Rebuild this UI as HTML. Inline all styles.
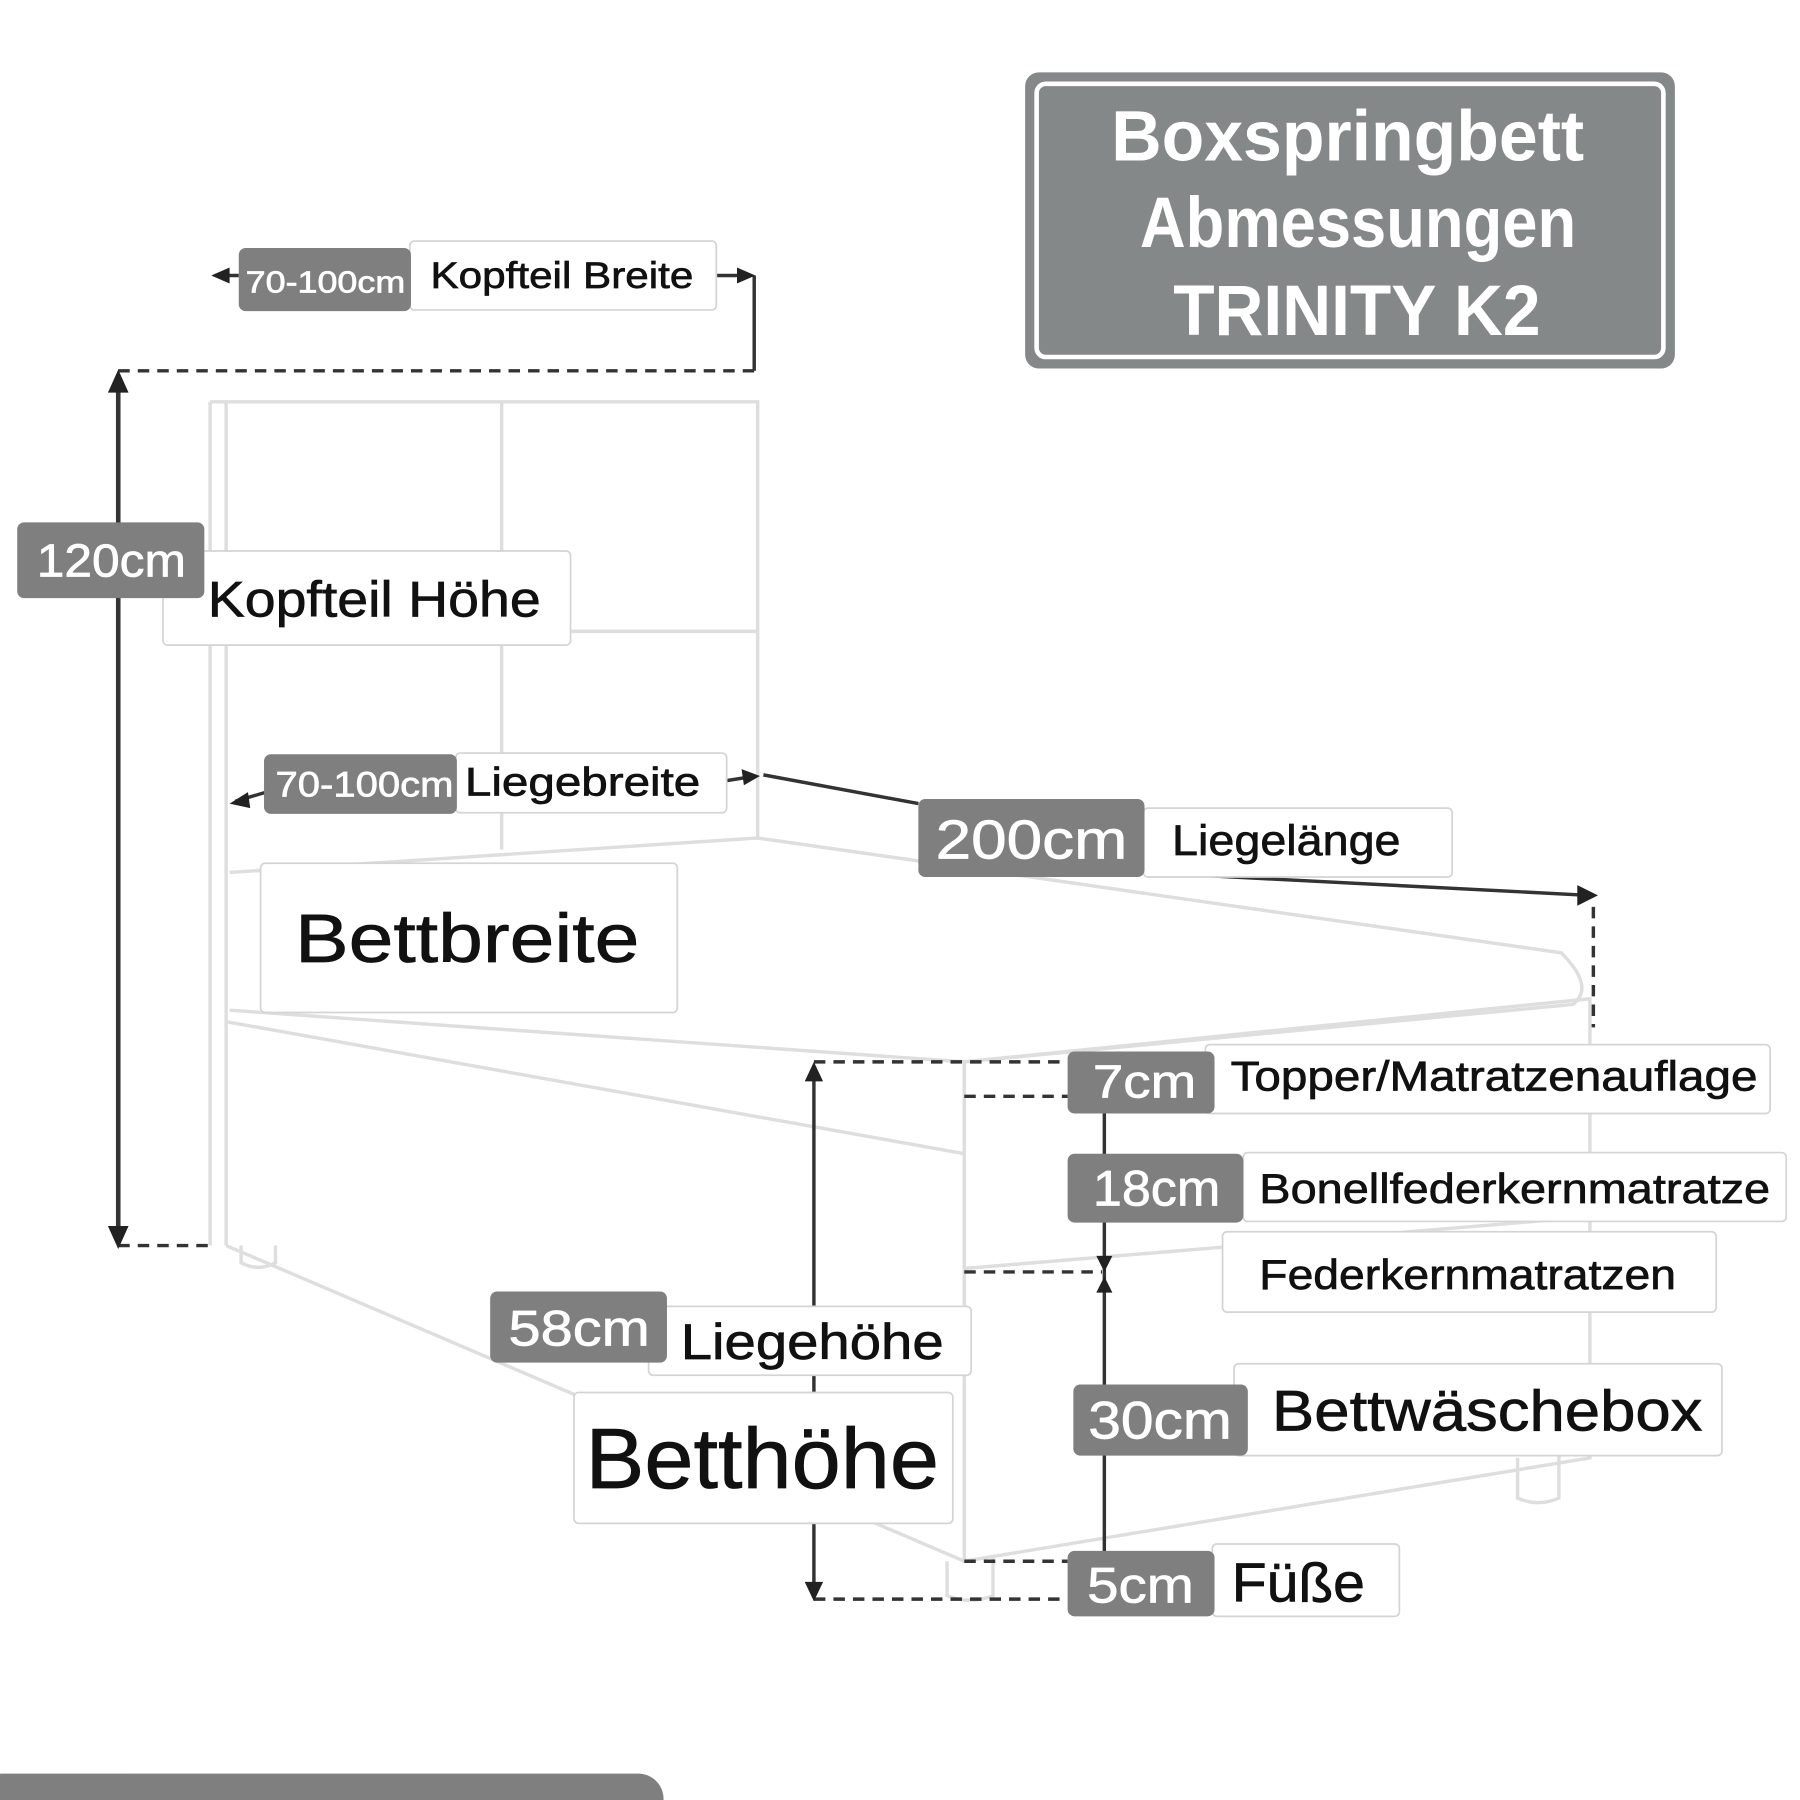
<!DOCTYPE html>
<html><head><meta charset="utf-8"><style>html,body{margin:0;padding:0;background:#fff}svg{display:block}</style></head>
<body>
<svg width="1800" height="1800" viewBox="0 0 1568 1568" xmlns="http://www.w3.org/2000/svg" font-family="Liberation Sans, sans-serif">
<rect width="1568" height="1568" fill="#fff"/>
<!-- title -->
<rect x="893" y="63" width="566" height="258" rx="12" fill="#858888"/>
<rect x="903" y="73" width="546" height="238" rx="8" fill="none" stroke="#fff" stroke-width="4"/>
<g fill="#fff" font-weight="bold" font-size="62">
<text x="968" y="140" textLength="412" lengthAdjust="spacingAndGlyphs">Boxspringbett</text>
<text x="993" y="215" textLength="380" lengthAdjust="spacingAndGlyphs">Abmessungen</text>
<text x="1022" y="292" textLength="320" lengthAdjust="spacingAndGlyphs">TRINITY K2</text>
</g>
<rect x="-20" y="1545" width="598" height="60" rx="22" fill="#7f7f7f"/>
<!-- bed -->
<g fill="none" stroke="#dedede" stroke-width="3">
<path d="M183 350 L183 1085 M197 350 L197 1085 M183 350 L660 350 L660 730"/>
<path d="M200 550 L660 550 M437 350 L437 740"/>
<path d="M200 760 L660 730 L1360 830 Q1390 860 1370 875 L840 925 L200 880"/>
<path d="M840 925 L1385 870 L1385 1270 L840 1360 Z"/>
<path d="M197 890 L840 1005 M840 1105 L1385 1060 M197 1085 L840 1360"/>
<path d="M210 1085 L210 1100 Q225 1108 240 1100 L240 1085"/>
<path d="M825 1360 L825 1390 Q845 1398 865 1390 L865 1355"/>
<path d="M1322 1270 L1322 1305 Q1340 1313 1358 1305 L1358 1265"/>
</g>
<!-- dimension lines -->
<g stroke="#333" stroke-width="3" fill="none">
<line x1="103" y1="328" x2="103" y2="1082" stroke-width="4"/>
<line x1="103" y1="323" x2="657" y2="323" stroke-dasharray="10 7"/>
<line x1="103" y1="1085" x2="185" y2="1085" stroke-dasharray="10 7"/>
<line x1="657" y1="240" x2="657" y2="323"/>
<line x1="190" y1="240" x2="208" y2="240"/>
<line x1="624" y1="240" x2="652" y2="240"/>
<line x1="205" y1="698" x2="232" y2="690"/>
<line x1="633" y1="680" x2="658" y2="676"/>
<line x1="665" y1="675" x2="800" y2="700"/>
<line x1="997" y1="760" x2="1385" y2="780"/>
<line x1="1388" y1="790" x2="1388" y2="895" stroke-dasharray="10 7"/>
<line x1="709" y1="930" x2="709" y2="1390"/>
<line x1="709" y1="925" x2="930" y2="925" stroke-dasharray="10 7"/>
<line x1="709" y1="1393" x2="930" y2="1393" stroke-dasharray="10 7"/>
<line x1="962" y1="960" x2="962" y2="1385"/>
<line x1="840" y1="955" x2="930" y2="955" stroke-dasharray="10 7"/>
<line x1="840" y1="1108" x2="960" y2="1108" stroke-dasharray="10 7"/>
<line x1="840" y1="1360" x2="930" y2="1360" stroke-dasharray="10 7"/>
</g>
<g fill="#222">
<polygon points="103,322 94,342 112,342"/><polygon points="103,1088 94,1068 112,1068"/>
<polygon points="184,240 200,233 200,247"/><polygon points="658,240 642,233 642,247"/>
<polygon points="200,700 216,690 218,704"/><polygon points="662,676 646,670 648,684"/>
<polygon points="1392,780 1374,771 1374,789"/>
<polygon points="709,925 701,942 717,942"/><polygon points="709,1395 701,1378 717,1378"/>
<polygon points="962,1108 955,1094 969,1094"/><polygon points="962,1112 955,1126 969,1126"/>
<polygon points="962,1390 955,1374 969,1374"/>
</g>
<!-- labels -->
<g stroke="#d4d4d4" stroke-width="1.5" fill="#fff">
<rect x="357" y="210" width="267" height="60" rx="4"/>
<rect x="142" y="480" width="355" height="82" rx="4"/>
<rect x="397" y="656" width="236" height="52" rx="4"/>
<rect x="996" y="704" width="269" height="60" rx="4"/>
<rect x="227" y="752" width="363" height="130" rx="4"/>
<rect x="1050" y="910" width="492" height="60" rx="4"/>
<rect x="1083" y="1004" width="473" height="60" rx="4"/>
<rect x="1065" y="1073" width="430" height="70" rx="4"/>
<rect x="565" y="1138" width="281" height="60" rx="4"/>
<rect x="500" y="1213" width="330" height="114" rx="4"/>
<rect x="1075" y="1188" width="425" height="80" rx="4"/>
<rect x="1056" y="1345" width="163" height="63" rx="4"/>
</g>
<g fill="#7f7f7f">
<rect x="208" y="216" width="150" height="55" rx="6"/>
<rect x="15" y="455" width="163" height="66" rx="6"/>
<rect x="230" y="657" width="168" height="52" rx="6"/>
<rect x="800" y="696" width="197" height="68" rx="6"/>
<rect x="930" y="916" width="128" height="54" rx="6"/>
<rect x="930" y="1005" width="153" height="60" rx="6"/>
<rect x="427" y="1125" width="154" height="62" rx="6"/>
<rect x="935" y="1206" width="152" height="62" rx="6"/>
<rect x="930" y="1351" width="128" height="57" rx="6"/>
</g>
<g fill="#fff" stroke="#fff" stroke-width="0.6">
<text x="214" y="255" font-size="27" textLength="139" lengthAdjust="spacingAndGlyphs">70-100cm</text>
<text x="32" y="502" font-size="40" textLength="130" lengthAdjust="spacingAndGlyphs">120cm</text>
<text x="240" y="694" font-size="31" textLength="155" lengthAdjust="spacingAndGlyphs">70-100cm</text>
<text x="815" y="748" font-size="48" textLength="167" lengthAdjust="spacingAndGlyphs">200cm</text>
<text x="952" y="956" font-size="40" textLength="90" lengthAdjust="spacingAndGlyphs">7cm</text>
<text x="952" y="1050" font-size="44" textLength="111" lengthAdjust="spacingAndGlyphs">18cm</text>
<text x="443" y="1172" font-size="44" textLength="123" lengthAdjust="spacingAndGlyphs">58cm</text>
<text x="948" y="1253" font-size="46" textLength="125" lengthAdjust="spacingAndGlyphs">30cm</text>
<text x="947" y="1396" font-size="44" textLength="93" lengthAdjust="spacingAndGlyphs">5cm</text>
</g>
<g fill="#111" stroke="#111" stroke-width="0.6">
<text x="375" y="251" font-size="32" textLength="229" lengthAdjust="spacingAndGlyphs">Kopfteil Breite</text>
<text x="181" y="537" font-size="44" textLength="290" lengthAdjust="spacingAndGlyphs">Kopfteil Höhe</text>
<text x="405" y="693" font-size="35" textLength="205" lengthAdjust="spacingAndGlyphs">Liegebreite</text>
<text x="1021" y="745" font-size="37" textLength="199" lengthAdjust="spacingAndGlyphs">Liegelänge</text>
<text x="257" y="838" font-size="60" textLength="300" lengthAdjust="spacingAndGlyphs">Bettbreite</text>
<text x="1072" y="950" font-size="36" textLength="459" lengthAdjust="spacingAndGlyphs">Topper/Matratzenauflage</text>
<text x="1097" y="1048" font-size="36" textLength="445" lengthAdjust="spacingAndGlyphs">Bonellfederkernmatratze</text>
<text x="1097" y="1123" font-size="36" textLength="363" lengthAdjust="spacingAndGlyphs">Federkernmatratzen</text>
<text x="593" y="1184" font-size="44" textLength="229" lengthAdjust="spacingAndGlyphs">Liegehöhe</text>
<text x="510" y="1296" font-size="74" textLength="308" lengthAdjust="spacingAndGlyphs">Betthöhe</text>
<text x="1108" y="1246" font-size="50" textLength="375" lengthAdjust="spacingAndGlyphs">Bettwäschebox</text>
<text x="1073" y="1395" font-size="48" textLength="116" lengthAdjust="spacingAndGlyphs">Füße</text>
</g>
</svg>
</body></html>
